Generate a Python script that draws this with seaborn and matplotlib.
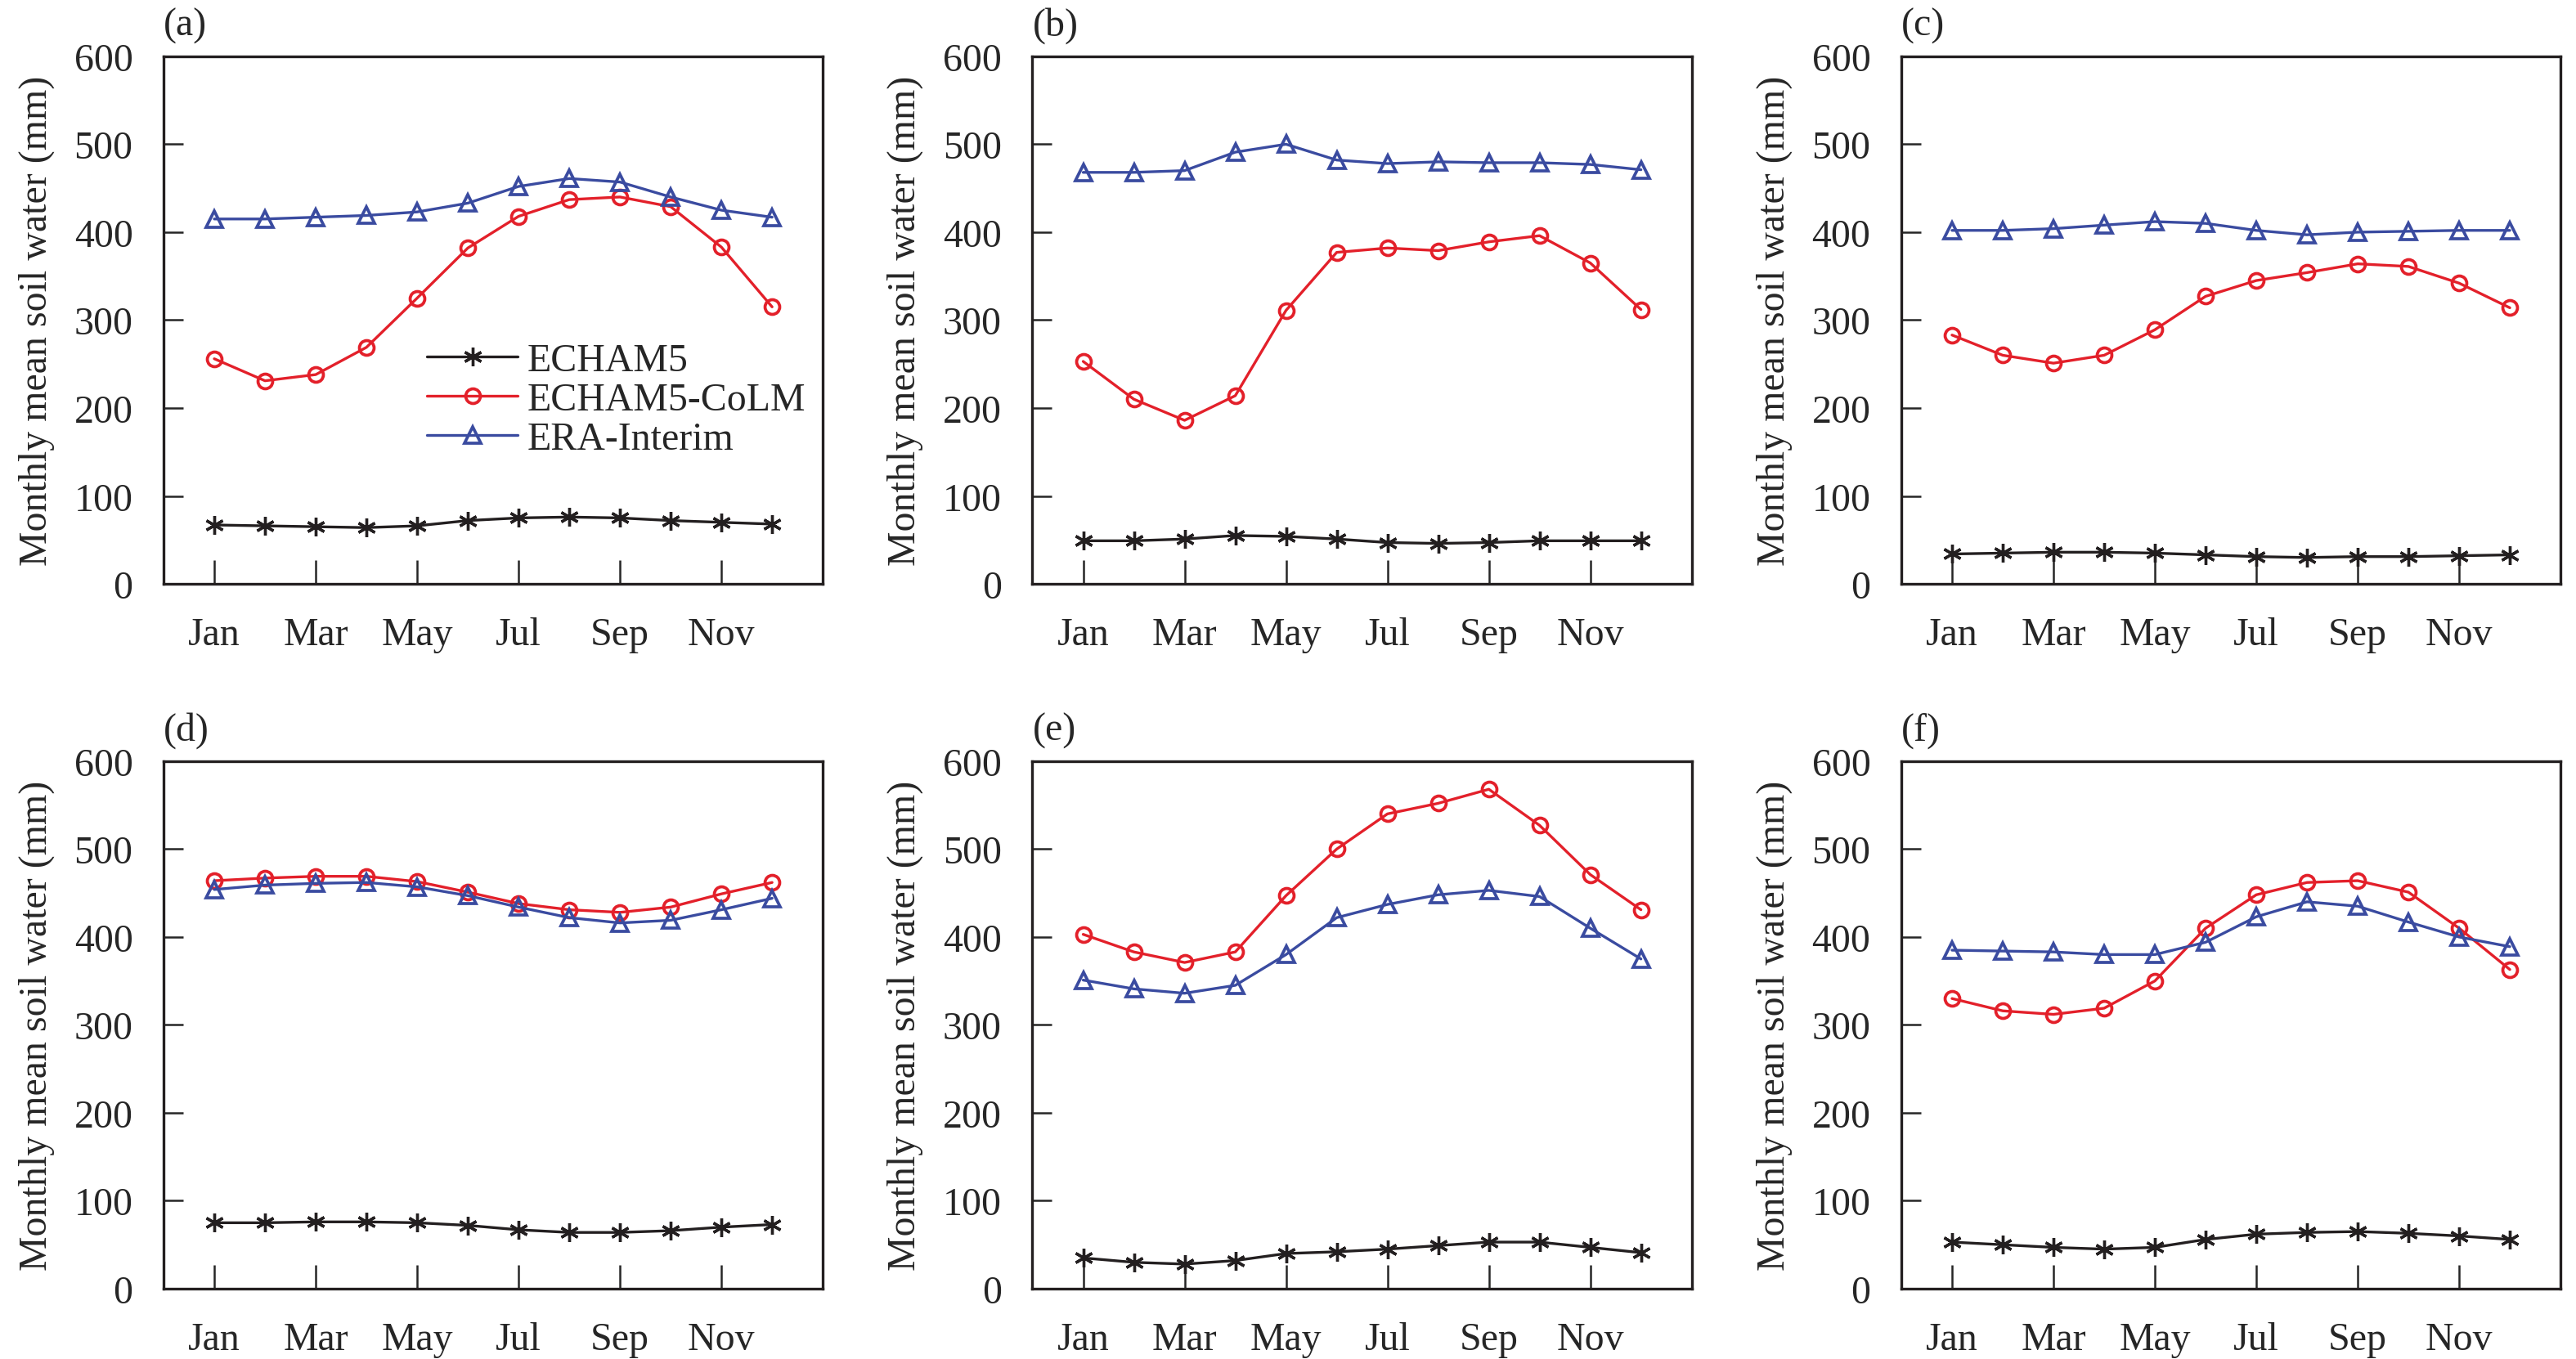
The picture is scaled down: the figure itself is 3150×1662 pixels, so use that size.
import numpy as np
import pandas as pd
import matplotlib
matplotlib.use("Agg")
import matplotlib.pyplot as plt
import seaborn as sns

# monthly values (mm), Jan..Dec
months = np.arange(1, 13)
month_labels = ['Jan', 'Mar', 'May', 'Jul', 'Sep', 'Nov']
panel_labels = ['(a)', '(b)', '(c)', '(d)', '(e)', '(f)']

echam5_a = [67, 66, 65, 64, 66, 72, 75, 76, 75, 72, 70, 68]
colm_a = [256, 231, 238, 269, 325, 382, 418, 437, 440, 429, 383, 315]
era_a = [415, 415, 417, 419, 423, 433, 452, 461, 457, 440, 425, 417]

echam5_b = [49, 49, 51, 55, 54, 51, 47, 46, 47, 49, 49, 49]
colm_b = [253, 210, 186, 214, 311, 377, 382, 379, 389, 396, 365, 312]
era_b = [468, 468, 470, 491, 500, 482, 478, 480, 479, 479, 477, 471]

echam5_c = [34, 35, 36, 36, 35, 33, 31, 30, 31, 31, 32, 33]
colm_c = [283, 260, 251, 260, 289, 327, 345, 354, 364, 361, 342, 314]
era_c = [402, 402, 404, 408, 412, 410, 402, 397, 400, 401, 402, 402]

echam5_d = [75, 75, 76, 76, 75, 72, 67, 64, 64, 66, 70, 73]
colm_d = [464, 467, 469, 469, 463, 451, 438, 431, 428, 434, 449, 462]
era_d = [454, 459, 461, 462, 457, 447, 434, 422, 416, 419, 431, 444]

echam5_e = [35, 30, 28, 32, 40, 42, 45, 49, 53, 53, 47, 41]
colm_e = [403, 383, 371, 383, 447, 500, 540, 552, 568, 527, 471, 431]
era_e = [351, 341, 336, 345, 380, 422, 437, 448, 453, 446, 410, 375]

echam5_f = [53, 50, 47, 45, 47, 56, 62, 64, 65, 63, 60, 56]
colm_f = [330, 316, 312, 319, 350, 410, 448, 462, 464, 451, 410, 363]
era_f = [385, 384, 383, 380, 380, 394, 423, 440, 435, 417, 400, 389]

echam5_all = [echam5_a, echam5_b, echam5_c, echam5_d, echam5_e, echam5_f]
colm_all = [colm_a, colm_b, colm_c, colm_d, colm_e, colm_f]
era_all = [era_a, era_b, era_c, era_d, era_e, era_f]

sns.set_style("ticks")
plt.rcParams['font.family'] = ['Liberation Serif', 'DejaVu Serif']
plt.rcParams['font.size'] = 11
plt.rcParams['axes.linewidth'] = 0.8

black = '#231f20'
red = '#e3202a'
blue = '#3a4ba0'

fig, axes = plt.subplots(2, 3, figsize=(10.5, 5.5433), dpi=300)
fig.subplots_adjust(left=0.0635, right=0.994, bottom=0.0517, top=0.958,
                    wspace=0.318, hspace=0.336)

for i, ax in enumerate(axes.flat):
    df = pd.DataFrame({'month': months, 'ECHAM5': echam5_all[i],
                       'ECHAM5-CoLM': colm_all[i], 'ERA-Interim': era_all[i]})
    sns.lineplot(data=df, x='month', y='ECHAM5', ax=ax, color=black, lw=0.8,
                 marker=(6, 2, 0), markersize=5.5, mew=0.8, mec=black,
                 label='ECHAM5')
    sns.lineplot(data=df, x='month', y='ECHAM5-CoLM', ax=ax, color=red, lw=0.8,
                 marker='o', markersize=4.3, mfc='none', mec=red, mew=0.9,
                 label='ECHAM5-CoLM')
    sns.lineplot(data=df, x='month', y='ERA-Interim', ax=ax, color=blue, lw=0.8,
                 marker='^', markersize=4.6, mfc='none', mec=blue, mew=0.9,
                 label='ERA-Interim')

    ax.set_xlim(0, 13)
    ax.set_ylim(0, 600)
    ax.set_xticks([1, 3, 5, 7, 9, 11])
    ax.set_xticklabels(month_labels)
    ax.set_yticks(range(0, 601, 100))
    ax.tick_params(axis='x', direction='in', length=7, width=0.6, pad=9.5,
                   labelsize=11.5)
    ax.tick_params(axis='y', direction='in', length=5.8, width=0.6, pad=9,
                   labelsize=11.5)
    ax.set_xlabel('')
    ax.set_ylabel('Monthly mean soil water (mm)', fontsize=11.5)
    ax.yaxis.set_label_coords(-0.165, 0.5)
    for s in ax.spines.values():
        s.set_visible(True)
        s.set_linewidth(0.8)
        s.set_color(black)
    ax.text(0, 1.025, panel_labels[i], transform=ax.transAxes,
            ha='left', va='bottom', fontsize=11.5)

    if i == 0:
        ax.legend(loc='center left', bbox_to_anchor=(0.40, 0.349),
                  frameon=False, borderpad=0, borderaxespad=0,
                  handlelength=2.3, handletextpad=0.25, labelspacing=0.08,
                  fontsize=11.5)
    else:
        ax.get_legend().remove()

fig.savefig('out.png', dpi=300)
